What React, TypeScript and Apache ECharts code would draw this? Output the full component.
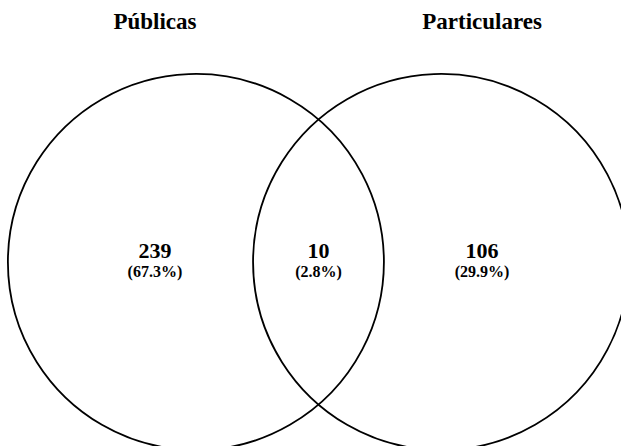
import React, { useEffect, useRef } from "react";
import * as echarts from "echarts";

// Data
const setNames = ["Públicas", "Particulares"];
const regionCounts = [239, 10, 106];
const regionPercents = ["67.3%", "2.8%", "29.9%"];

// Layout in unit-radius space
const circleCenterX = [-0.652, 0.652];
const regionLabelX = [-0.87, 0, 0.87];
const titleX = [-0.87, 0.87];
const titleY = 1.28;

const FONT = "'Liberation Serif', 'Times New Roman', Times, serif";

export default function App() {
  const ref = useRef<HTMLDivElement>(null);
  useEffect(() => {
    const chart = echarts.init(ref.current!, null, { renderer: "svg" });
    chart.setOption({
      animation: false,
      backgroundColor: "#ffffff",
      grid: { left: 0, right: 0, top: 0, bottom: 0 },
      xAxis: { type: "value", min: -1.694, max: 1.609, show: false },
      yAxis: { type: "value", min: -0.979, max: 1.394, show: false },
      series: [
        {
          type: "custom",
          coordinateSystem: "cartesian2d",
          data: circleCenterX.map((cx) => [cx, 0, 1]),
          renderItem: (params: any, api: any) => {
            const c = api.coord([api.value(0), api.value(1)]);
            const r = api.size([api.value(2), 0])[0];
            return {
              type: "circle",
              shape: { cx: c[0], cy: c[1], r },
              style: { fill: "none", stroke: "#000000", lineWidth: 1.8 },
            };
          },
        },
        {
          type: "custom",
          coordinateSystem: "cartesian2d",
          data: regionLabelX.map((x, i) => [x, 0, regionCounts[i]]),
          renderItem: (params: any, api: any) => {
            const c = api.coord([api.value(0), api.value(1)]);
            const i = params.dataIndex;
            return {
              type: "group",
              children: [
                {
                  type: "text",
                  x: c[0],
                  y: c[1] - 11.5,
                  style: {
                    text: String(regionCounts[i]),
                    font: `bold 22px ${FONT}`,
                    fill: "#000",
                    align: "center",
                    verticalAlign: "middle",
                  },
                },
                {
                  type: "text",
                  x: c[0],
                  y: c[1] + 10,
                  style: {
                    text: `(${regionPercents[i]})`,
                    font: `bold 16px ${FONT}`,
                    fill: "#000",
                    align: "center",
                    verticalAlign: "middle",
                  },
                },
              ],
            };
          },
        },
        {
          type: "custom",
          coordinateSystem: "cartesian2d",
          data: titleX.map((x) => [x, titleY]),
          renderItem: (params: any, api: any) => {
            const c = api.coord([api.value(0), api.value(1)]);
            return {
              type: "text",
              x: c[0],
              y: c[1],
              style: {
                text: setNames[params.dataIndex],
                font: `bold 23px ${FONT}`,
                fill: "#000",
                align: "center",
                verticalAlign: "middle",
              },
            };
          },
        },
      ],
    });
    return () => chart.dispose();
  }, []);
  return (
    <div
      ref={ref}
      style={{ position: "absolute", left: 0, top: 0, width: 621, height: 446 }}
    />
  );
}
